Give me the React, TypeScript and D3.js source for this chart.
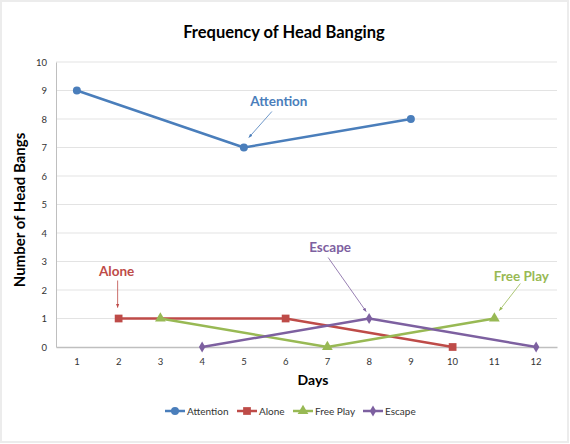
import * as d3 from "d3";
import { useEffect, useRef } from "react";

const days = [1, 2, 3, 4, 5, 6, 7, 8, 9, 10, 11, 12];
const yTicks = [0, 1, 2, 3, 4, 5, 6, 7, 8, 9, 10];

const attention = [
  { day: 1, value: 9 },
  { day: 5, value: 7 },
  { day: 9, value: 8 },
];
const alone = [
  { day: 2, value: 1 },
  { day: 6, value: 1 },
  { day: 10, value: 0 },
];
const freePlay = [
  { day: 3, value: 1 },
  { day: 7, value: 0 },
  { day: 11, value: 1 },
];
const escape = [
  { day: 4, value: 0 },
  { day: 8, value: 1 },
  { day: 12, value: 0 },
];

const seriesNames = ["Attention", "Alone", "Free Play", "Escape"];
const seriesColors = ["#4a7ebb", "#be4b48", "#98b954", "#7d60a0"];
const seriesSymbols = [d3.symbolCircle, d3.symbolSquare, d3.symbolTriangle, d3.symbolDiamond];
const symbolSizes = [50, 60, 50, 36];

// callout labels: text offset and arrow tip offset from the data point
const callouts = [
  { label: "Attention", day: 5, value: 7, tx: 35, ty: -42, fx: 28, fy: -36, ax: 5, ay: -10 },
  { label: "Alone", day: 2, value: 1, tx: -2, ty: -43, fx: -1, fy: -38, ax: -1, ay: -11 },
  { label: "Escape", day: 8, value: 1, tx: -39, ty: -67, fx: -41, fy: -61, ax: -3, ay: -7 },
  { label: "Free Play", day: 11, value: 1, tx: 27, ty: -38, fx: 26, fy: -35, ax: 5, ay: -8 },
];

const width = 570;
const height = 444;
const marginTop = 62;
const marginRight = 13;
const marginBottom = 97;
const marginLeft = 56;
const font = "Lato, 'Open Sans', sans-serif";

export default function App() {
  const svgRef = useRef(null);

  useEffect(() => {
    const svg = d3.select(svgRef.current);
    svg.selectAll("*").remove();

    const allSeries = [attention, alone, freePlay, escape];

    const x = d3.scaleBand()
      .domain(days.map(String))
      .range([marginLeft, width - marginRight])
      .padding(0);
    const cx = (d) => x(String(d)) + x.bandwidth() / 2;

    const y = d3.scaleLinear()
      .domain([0, 10])
      .range([height - marginBottom, marginTop]);

    svg.append("rect")
      .attr("x", 1).attr("y", 1)
      .attr("width", width - 3).attr("height", height - 3)
      .attr("fill", "white")
      .attr("stroke", "#ececec")
      .attr("stroke-width", 2);

    svg.append("text")
      .text("Frequency of Head Banging")
      .attr("x", 284).attr("y", 38)
      .attr("text-anchor", "middle")
      .attr("font-family", font)
      .attr("font-weight", "bold")
      .attr("font-size", 16.5)
      .attr("fill", "#000");

    // grid
    svg.append("g")
      .selectAll("line")
      .data(yTicks.filter((t) => t > 0))
      .join("line")
        .attr("x1", marginLeft).attr("x2", width - marginRight)
        .attr("y1", (d) => y(d)).attr("y2", (d) => y(d))
        .attr("stroke", "#e3e3e3");

    svg.append("g")
      .attr("transform", `translate(${marginLeft},0)`)
      .call(d3.axisLeft(y).tickValues(yTicks).tickSize(0).tickPadding(9))
      .call((g) => g.select(".domain").attr("stroke", "#bfbfbf"))
      .call((g) => g.selectAll("text")
        .attr("font-family", font).attr("font-size", 9.5).attr("fill", "#333"));

    svg.append("g")
      .attr("transform", `translate(0,${height - marginBottom})`)
      .call(d3.axisBottom(x).tickSize(0).tickPadding(11))
      .call((g) => g.select(".domain").attr("stroke", "#bfbfbf").attr("stroke-width", 1.5))
      .call((g) => g.selectAll("text")
        .attr("font-family", font).attr("font-size", 9.5).attr("fill", "#333"));

    svg.append("text")
      .text("Number of Head Bangs")
      .attr("transform", "translate(25,210) rotate(-90)")
      .attr("text-anchor", "middle")
      .attr("font-family", font)
      .attr("font-weight", "bold")
      .attr("font-size", 15);

    svg.append("text")
      .text("Days")
      .attr("x", 313).attr("y", 385)
      .attr("text-anchor", "middle")
      .attr("font-family", font)
      .attr("font-weight", "bold")
      .attr("font-size", 14);

    const line = d3.line().x((d) => cx(d.day)).y((d) => y(d.value));

    allSeries.forEach((data, i) => {
      const g = svg.append("g");
      g.append("path")
        .datum(data)
        .attr("d", line)
        .attr("fill", "none")
        .attr("stroke", seriesColors[i])
        .attr("stroke-width", 2.5)
        .attr("stroke-linejoin", "round");
      g.selectAll("path.pt")
        .data(data)
        .join("path")
          .attr("class", "pt")
          .attr("transform", (d) => `translate(${cx(d.day)},${y(d.value)})`)
          .attr("d", d3.symbol(seriesSymbols[i], symbolSizes[i]))
          .attr("fill", seriesColors[i]);
    });

    // callouts
    const defs = svg.append("defs");
    callouts.forEach((c, i) => {
      const color = seriesColors[seriesNames.indexOf(c.label)];
      const px = cx(c.day);
      const py = y(c.value);
      defs.append("marker")
        .attr("id", `arrow${i}`)
        .attr("viewBox", "0 0 10 10")
        .attr("refX", 9).attr("refY", 5)
        .attr("markerWidth", 5).attr("markerHeight", 5)
        .attr("orient", "auto")
        .append("path")
          .attr("d", "M0,1L10,5L0,9z")
          .attr("fill", color);
      svg.append("line")
        .attr("x1", px + c.fx).attr("y1", py + c.fy)
        .attr("x2", px + c.ax).attr("y2", py + c.ay)
        .attr("stroke", color)
        .attr("stroke-width", 0.8)
        .attr("marker-end", `url(#arrow${i})`);
      svg.append("text")
        .text(c.label)
        .attr("x", px + c.tx).attr("y", py + c.ty)
        .attr("text-anchor", "middle")
        .attr("font-family", font)
        .attr("font-weight", "bold")
        .attr("font-size", 13.5)
        .attr("fill", color);
    });

    // legend
    const legendX = [165, 237, 293, 363];
    const legend = svg.append("g").attr("transform", "translate(0,411)");
    seriesNames.forEach((name, i) => {
      const lg = legend.append("g").attr("transform", `translate(${legendX[i]},0)`);
      lg.append("line")
        .attr("x1", 0).attr("x2", 20)
        .attr("stroke", seriesColors[i])
        .attr("stroke-width", 2.5);
      lg.append("path")
        .attr("transform", "translate(10,0)")
        .attr("d", d3.symbol(seriesSymbols[i], symbolSizes[i]))
        .attr("fill", seriesColors[i]);
      lg.append("text")
        .text(name)
        .attr("x", 22).attr("y", 3.5)
        .attr("font-family", font)
        .attr("font-size", 10)
        .attr("fill", "#333");
    });
  }, []);

  return (
    <div style={{ position: "absolute", left: 0, top: 0 }}>
      <svg ref={svgRef} width={width} height={height} viewBox={`0 0 ${width} ${height}`} />
    </div>
  );
}
